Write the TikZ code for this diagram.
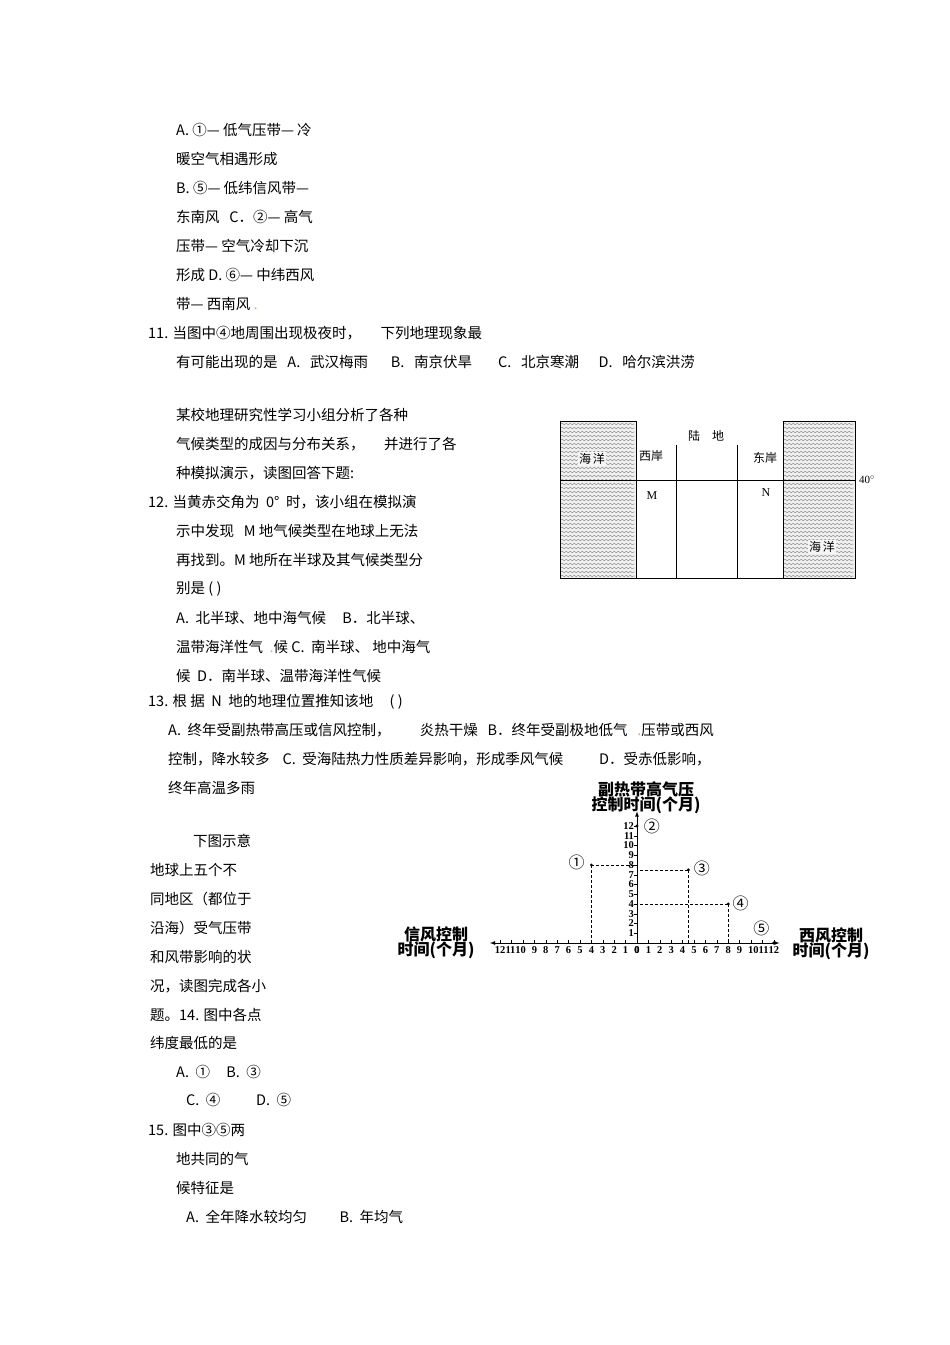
\documentclass[tikz,border=0pt]{standalone}
\usepackage{fontspec}
\setmainfont{Noto Sans CJK SC}
\newfontfamily\numf{Liberation Serif}
\usetikzlibrary{decorations.pathmorphing}
\begin{document}
\begin{tikzpicture}[x=1pt,y=-1pt,
  txt/.style={anchor=west,inner sep=0,font=\fontsize{14.5}{14.5}\selectfont},
  lab/.style={inner sep=1pt,font=\fontsize{12}{12}\selectfont},
  tk/.style={inner sep=0,font=\numf\bfseries\fontsize{10.5}{10.5}\selectfont},
  ax/.style={font=\bfseries\fontsize{16}{16}\selectfont,inner sep=0,align=center},
  dl/.style={densely dashed,line width=0.7pt},
  wav/.style={decorate,decoration={snake,amplitude=0.8pt,segment length=4pt},gray,line width=0.4pt}]
\useasboundingbox (0,0) rectangle (950,1345);
\fill[white] (0,0) rectangle (950,1345);
% text
\node[txt] (t1) at (176,130) {A. ①— 低气压带— 冷};
\node[txt] (t2) at (176,159) {暖空气相遇形成};
\node[txt] (t3) at (176,188) {B. ⑤— 低纬信风带—};
\node[txt] (t4) at (176,217) {东南风\ \ \ C．②— 高气};
\node[txt] (t5) at (176,246) {压带— 空气冷却下沉};
\node[txt] (t6) at (176,275) {形成 D. ⑥— 中纬西风};
\node[txt] (t7) at (176,304) {带— 西南风 {\color{orange!70}.}};
\node[txt] (t8) at (148,333) {11. 当图中④地周围出现极夜时，\ \ \ \ \ \ 下列地理现象最};
\node[txt] (t9) at (176,362) {有可能出现的是\ \ \ A.\ \ \ 武汉梅雨\ \ \ \ \ \ \ B.\ \ \ 南京伏旱\ \ \ \ \ \ \ \ C.\ \ \ 北京寒潮\ \ \ \ \ \ D.\ \ \ 哈尔滨洪涝};
\node[txt] (t10) at (176,415) {某校地理研究性学习小组分析了各种};
\node[txt] (t11) at (176,444) {气候类型的成因与分布关系，\ \ \ \ \ \ 并进行了各};
\node[txt] (t12) at (176,473) {种模拟演示，读图回答下题:};
\node[txt] (t13) at (148,502) {12. 当黄赤交角为\ \ 0°\ \ 时，该小组在模拟演};
\node[txt] (t14) at (176,531) {示中发现\ \ \ M 地气候类型在地球上无法};
\node[txt] (t15) at (176,560) {再找到。M 地所在半球及其气候类型分};
\node[txt] (t16) at (176,589) {别是 ( )};
\node[txt] (t17) at (176,618) {A.\ \ 北半球、地中海气候\ \ \ \ \ B．北半球、};
\node[txt] (t18) at (176,647) {温带海洋性气\ \ {\color{orange!70}.}候 C.\ \ 南半球、\ 地中海气};
\node[txt] (t19) at (176,676) {候\ \ D．南半球、温带海洋性气候};
\node[txt] (t20) at (148,702) {13. 根\ 据\ \ N\ \ 地的地理位置推知该地\ \ \ \ \ ( )};
\node[txt] (t21) at (168,730) {A.\ \ 终年受副热带高压或信风控制，\ \ \ \ \ \ \ \ \ 炎热干燥\ \ \ B．终年受副极地低气\ \ \ {\color{orange!70}.}压带或西风};
\node[txt] (t22) at (168,759) {控制，降水较多\ \ \ \ C.\ \ 受海陆热力性质差异影响，形成季风气候\ \ \ \ \ \ \ \ \ \ \ D．受赤低影响，};
\node[txt] (t23) at (168,788) {终年高温多雨};
\node[txt] (t24) at (193,841) {下图示意};
\node[txt] (t25) at (150,870) {地球上五个不};
\node[txt] (t26) at (150,899) {同地区（都位于};
\node[txt] (t27) at (150,928) {沿海）受气压带};
\node[txt] (t28) at (150,957) {和风带影响的状};
\node[txt] (t29) at (150,986) {况，读图完成各小};
\node[txt] (t30) at (150,1015) {题。14. 图中各点};
\node[txt] (t31) at (150,1043) {纬度最低的是};
\node[txt] (t32) at (176,1072) {A.\ \ ①\ \ \ \ \ B.\ \ ③};
\node[txt] (t33) at (186,1100) {C.\ \ ④\ \ \ \ \ \ \ \ \ \ \ D.\ \ ⑤};
\node[txt] (t34) at (148,1130) {15. 图中③⑤两};
\node[txt] (t35) at (176,1159) {地共同的气};
\node[txt] (t36) at (176,1188) {候特征是};
\node[txt] (t37) at (186,1217) {A.\ \ 全年降水较均匀\ \ \ \ \ \ \ \ \ \ B.\ \ 年均气};
% map
\fill[gray!12] (560,421) rectangle (636,578) (783,421) rectangle (855,578);
\foreach \y in {424,428,...,576}{
  \draw[wav] (561,\y) -- (635,\y);
  \draw[wav] (784,\y) -- (854,\y);}
\draw[line width=0.8pt] (560,421) rectangle (855,578);
\fill[white] (636,421) rectangle (783,578);
\draw[line width=0.8pt] (636,421) -- (636,578) (783,421) -- (783,578);
\draw[line width=0.8pt] (560,480) -- (855,480);
\draw (676,445) -- (676,578) (737,445) -- (737,578);
\node[lab,fill=gray!8] (sea1) at (592,459) {海\,洋};
\node[lab,fill=gray!8] (sea2) at (822,547) {海\,洋};
\node[lab] (land) at (706,436) {陆\quad 地};
\node[lab] (wa) at (651,456) {西岸};
\node[lab] (ea) at (765,458) {东岸};
\node[lab,font=\numf\fontsize{12}{12}\selectfont] (M) at (652,496) {M};
\node[lab,font=\numf\fontsize{12}{12}\selectfont] (N) at (766,493) {N};
\node[lab,font=\numf\fontsize{11}{11}\selectfont] (d40) at (867,480) {40$^\circ$};
% chart
\begin{scope}[shift={(637,943)},x=11.4pt,y=9.75pt]
\coordinate (O) at (0,0);
\coordinate (xl) at (-12.9,0); \coordinate (xr) at (12.5,0); \coordinate (yt) at (0,13.5);
\draw[-latex,line width=0.8pt] (O) -- (xl);
\draw[-latex,line width=0.8pt] (O) -- (xr);
\draw[-latex,line width=0.8pt] (O) -- (yt);
\foreach \i in {1,...,12}{
  \draw (\i,0) -- (\i,0.3); \draw (-\i,0) -- (-\i,0.3);
  \draw (0,\i) -- (-0.25,\i);
  \node[tk,anchor=east] at (-0.25,\i) {\i};}
\foreach \i in {0,...,9}{\node[tk] at (\i,-0.75) {\i}; \node[tk] at (-\i,-0.75) {\i};}
\node[tk] at (10.2,-0.75) {10}; \node[tk] at (11.1,-0.75) {11}; \node[tk] at (12,-0.75) {12};
\node[tk] at (-10.2,-0.75) {10}; \node[tk] at (-11.1,-0.75) {11}; \node[tk] at (-12,-0.75) {12};
\coordinate (p1) at (-4,8); \coordinate (p2) at (0,12); \coordinate (p3) at (4.5,7.5); \coordinate (p4) at (8,4); \coordinate (p5) at (12,0);
\foreach \p in {p1,p2,p3,p4,p5}{\fill (\p) circle (1.6pt);}
\draw[dl] (p1) -- (0,8) (p1) -- (-4,0);
\draw[dl] (p3) -- (0,7.5) (p3) -- (4.5,0);
\draw[dl] (p4) -- (0,4) (p4) -- (8,0);
\node[font=\fontsize{16}{16}\selectfont,inner sep=0] (c1) at (-5.3,8.3) {①};
\node[font=\fontsize{16}{16}\selectfont,inner sep=0] (c2) at (1.3,12) {②};
\node[font=\fontsize{16}{16}\selectfont,inner sep=0] (c3) at (5.7,7.7) {③};
\node[font=\fontsize{16}{16}\selectfont,inner sep=0] (c4) at (9.1,4.1) {④};
\node[font=\fontsize{16}{16}\selectfont,inner sep=0] (c5) at (10.9,1.5) {⑤};
\end{scope}
\node[ax] (yl) at (646,798) {副热带高气压\\[-1pt]控制时间(个月)};
\node[ax] (xll) at (436,943) {信风控制\\[-1pt]时间(个月)};
\node[ax] (xrl) at (831,944) {西风控制\\[-1pt]时间(个月)};
\end{tikzpicture}
\end{document}
